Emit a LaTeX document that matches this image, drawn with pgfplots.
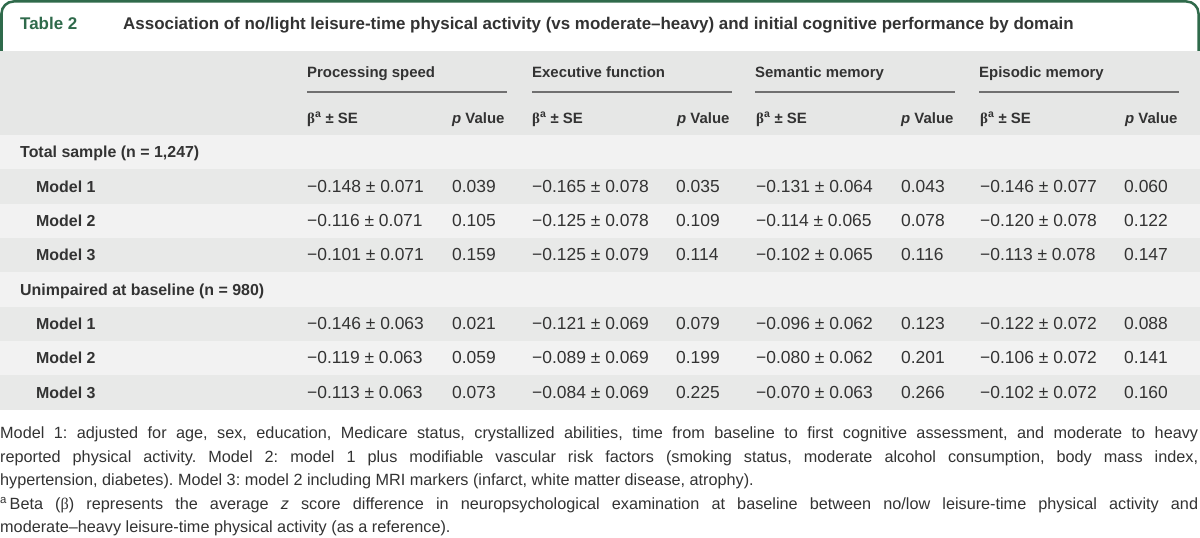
\documentclass[border=0pt]{standalone}
\usepackage{pgfplots}
\pgfplotsset{compat=1.18}
\usepackage{fontspec}
\setmainfont{Liberation Sans}
\newfontfamily\greek{Liberation Serif}

\definecolor{tgreen}{HTML}{2F6A4B}
\definecolor{hdr}{HTML}{E6E7E6}
\definecolor{rowlight}{HTML}{F2F2F2}
\definecolor{rowdark}{HTML}{E8E9E8}
\definecolor{txt}{HTML}{333333}
\definecolor{rule}{HTML}{707070}

\pgfplotsset{
  cells/.style={draw=none, mark=none, nodes near coords, point meta=explicit symbolic,
    nodes near coords style={anchor=base west, inner sep=0pt, text=txt,
      font=\fontsize{17.5}{20}\selectfont}},
}

\begin{document}
\frenchspacing
\begin{tikzpicture}
\begin{axis}[
  width=1200bp, height=537bp, scale only axis,
  xmin=0, xmax=1200, ymin=0, ymax=537, y dir=reverse,
  hide axis, clip=false,
]
% background and row bands
\fill[white] (axis cs:0,0) rectangle (axis cs:1200,537);
\fill[hdr] (axis cs:0,51) rectangle (axis cs:1200,134.5);
\fill[rowlight] (axis cs:0,134.5) rectangle (axis cs:1200,169);
\fill[rowdark] (axis cs:0,169) rectangle (axis cs:1200,204);
\fill[rowlight] (axis cs:0,204) rectangle (axis cs:1200,238);
\fill[rowdark] (axis cs:0,238) rectangle (axis cs:1200,272);
\fill[rowlight] (axis cs:0,272) rectangle (axis cs:1200,307);
\fill[rowdark] (axis cs:0,307) rectangle (axis cs:1200,341);
\fill[rowlight] (axis cs:0,341) rectangle (axis cs:1200,375);
\fill[rowdark] (axis cs:0,375) rectangle (axis cs:1200,410);

% title box
\draw[tgreen, line width=2.5bp, rounded corners=12bp]
  (axis cs:1.5,51) -- (axis cs:1.5,1.5) -- (axis cs:1198.5,1.5) -- (axis cs:1198.5,51);
\node[anchor=base west, inner sep=0pt, text=tgreen, font=\fontsize{17}{20}\bfseries]
  at (axis cs:20,30) {Table 2};
\node[anchor=base west, inner sep=0pt, text=txt, font=\fontsize{17}{20}\bfseries]
  at (axis cs:123,30) {Association of no/light leisure-time physical activity (vs moderate–heavy) and initial cognitive performance by domain};

% column headers
\foreach \x/\name in {307/Processing speed, 532/Executive function, 755/Semantic memory, 979/Episodic memory}{
  \edef\tmp{\noexpand\node[anchor=base west, inner sep=0pt, text=txt, font=\noexpand\fontsize{15}{18}\noexpand\bfseries]
    at (axis cs:\x,77.5) {\name};}\tmp
  \edef\tmp{\noexpand\draw[rule, line width=1.3bp] (axis cs:\x,92) -- (axis cs:\x+200,92);}\tmp
}
\foreach \x in {307,532,756,980}{
  \edef\tmp{\noexpand\node[anchor=base west, inner sep=0pt, text=txt, font=\noexpand\fontsize{15}{18}\noexpand\bfseries]
    at (axis cs:\x,123) {{\noexpand\greek β}\noexpand\textsuperscript{a} ± SE};}\tmp
  \edef\tmp{\noexpand\node[anchor=base west, inner sep=0pt, text=txt, font=\noexpand\fontsize{15}{18}\noexpand\bfseries]
    at (axis cs:\x+145,123) {{\noexpand\itshape p} Value};}\tmp
}

% row labels
\node[anchor=base west, inner sep=0pt, text=txt, font=\fontsize{16}{18}\bfseries] at (axis cs:20,157.5) {Total sample (n = 1,247)};
\node[anchor=base west, inner sep=0pt, text=txt, font=\fontsize{16}{18}\bfseries] at (axis cs:20,295) {Unimpaired at baseline (n = 980)};
\addplot[cells, nodes near coords style={font=\fontsize{16}{18}\bfseries}] coordinates {
  (36,192) [Model 1] (36,226.5) [Model 2] (36,260.5) [Model 3]
  (36,329.5) [Model 1] (36,363.5) [Model 2] (36,398) [Model 3]
};

% Processing speed
\addplot[cells] coordinates {
  (307,192) [−0.148 ± 0.071] (307,226.5) [−0.116 ± 0.071] (307,260.5) [−0.101 ± 0.071]
  (307,329.5) [−0.146 ± 0.063] (307,363.5) [−0.119 ± 0.063] (307,398) [−0.113 ± 0.063]
};
\addplot[cells] coordinates {
  (452,192) [0.039] (452,226.5) [0.105] (452,260.5) [0.159]
  (452,329.5) [0.021] (452,363.5) [0.059] (452,398) [0.073]
};
% Executive function
\addplot[cells] coordinates {
  (532,192) [−0.165 ± 0.078] (532,226.5) [−0.125 ± 0.078] (532,260.5) [−0.125 ± 0.079]
  (532,329.5) [−0.121 ± 0.069] (532,363.5) [−0.089 ± 0.069] (532,398) [−0.084 ± 0.069]
};
\addplot[cells] coordinates {
  (676,192) [0.035] (676,226.5) [0.109] (676,260.5) [0.114]
  (676,329.5) [0.079] (676,363.5) [0.199] (676,398) [0.225]
};
% Semantic memory
\addplot[cells] coordinates {
  (756,192) [−0.131 ± 0.064] (756,226.5) [−0.114 ± 0.065] (756,260.5) [−0.102 ± 0.065]
  (756,329.5) [−0.096 ± 0.062] (756,363.5) [−0.080 ± 0.062] (756,398) [−0.070 ± 0.063]
};
\addplot[cells] coordinates {
  (901,192) [0.043] (901,226.5) [0.078] (901,260.5) [0.116]
  (901,329.5) [0.123] (901,363.5) [0.201] (901,398) [0.266]
};
% Episodic memory
\addplot[cells] coordinates {
  (980,192) [−0.146 ± 0.077] (980,226.5) [−0.120 ± 0.078] (980,260.5) [−0.113 ± 0.078]
  (980,329.5) [−0.122 ± 0.072] (980,363.5) [−0.106 ± 0.072] (980,398) [−0.102 ± 0.072]
};
\addplot[cells] coordinates {
  (1124,192) [0.060] (1124,226.5) [0.122] (1124,260.5) [0.147]
  (1124,329.5) [0.088] (1124,363.5) [0.141] (1124,398) [0.160]
};

% footnotes
\begin{scope}[every node/.style={anchor=base west, inner sep=0pt, text=txt, font=\fontsize{16.3}{18}\selectfont}]
\node at (axis cs:0,438.5) {\makebox[1198bp][s]{Model 1: adjusted for age, sex, education, Medicare status, crystallized abilities, time from baseline to first cognitive assessment, and moderate to heavy}};
\node at (axis cs:0,462) {\makebox[1198bp][s]{reported physical activity. Model 2: model 1 plus modifiable vascular risk factors (smoking status, moderate alcohol consumption, body mass index,}};
\node at (axis cs:0,485.5) {hypertension, diabetes). Model 3: model 2 including MRI markers (infarct, white matter disease, atrophy).};
\node at (axis cs:0,509.5) {\makebox[1198bp][s]{\textsuperscript{a}\,Beta ({\greek β}) represents the average {\itshape z} score difference in neuropsychological examination at baseline between no/low leisure-time physical activity and}};
\node at (axis cs:0,532) {moderate–heavy leisure-time physical activity (as a reference).};
\end{scope}
\end{axis}
\end{tikzpicture}
\end{document}
